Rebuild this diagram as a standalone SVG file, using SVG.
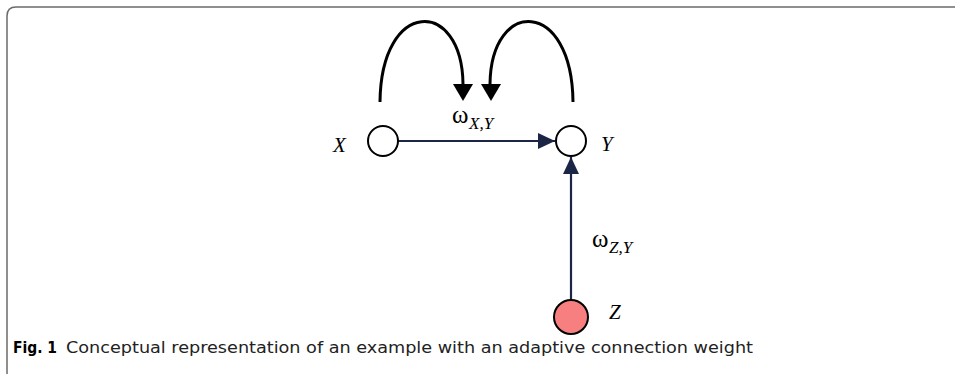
<svg xmlns="http://www.w3.org/2000/svg" width="955" height="374" viewBox="0 0 955 374">
<style>
.loop{fill:none;stroke:#000;stroke-width:3}
.edge{fill:none;stroke:#1b2546;stroke-width:2.2}
.node{fill:#fff;stroke:#000;stroke-width:2}
.lbl{font-family:"Liberation Serif",serif;font-style:italic;font-size:21px;fill:#000}
.om{font-family:"Liberation Serif",serif;font-size:25px;fill:#000}
.sub{font-family:"Liberation Serif",serif;font-style:italic;font-size:17px;fill:#000}
.cap{font-family:"DejaVu Sans Condensed","Liberation Sans",sans-serif;font-size:16px;fill:#222}
</style>
<defs>
<marker id="an" markerWidth="17" markerHeight="16" refX="17" refY="8" orient="auto" markerUnits="userSpaceOnUse" viewBox="0 0 17 16">
<path d="M0,0 L17,8 L0,16 Z" fill="#1b2546"/>
</marker>
</defs>
<path d="M7,374 L7,16 Q7,7 16,7 L955,7" fill="none" stroke="#6b6b6b" stroke-width="1.5"/>
<g id="connectors">
<path class="loop" d="M380,102 C381,-2 462,-2 463,84"/>
<polygon points="453,84 473,84 463,101" fill="#000"/>
<path class="loop" d="M573,102 C572,-2 491,-2 490,84"/>
<polygon points="481,84 501,84 491,101" fill="#000"/>
<path class="edge" d="M398,141 L555,141" marker-end="url(#an)"/>
<path class="edge" d="M571,300 L571,157" marker-end="url(#an)"/>
<g id="label-xy"><text class="om" x="452" y="123">ω</text><text class="sub" x="469" y="129">X,Y</text></g>
<g id="label-zy"><text class="om" x="592" y="247">ω</text><text class="sub" x="609" y="253">Z,Y</text></g>
</g>
<g id="node-X"><circle class="node" cx="383" cy="141" r="15"/><text class="lbl" x="333" y="152">X</text></g>
<g id="node-Y"><circle class="node" cx="571" cy="141" r="15"/><text class="lbl" x="601" y="151">Y</text></g>
<g id="node-Z"><circle cx="571" cy="317" r="17" fill="#f77f7f" stroke="#000" stroke-width="2"/><text class="lbl" x="609" y="319">Z</text></g>
<g id="caption"><text class="cap" x="13" y="353"><tspan font-weight="bold" fill="#000" textLength="44" lengthAdjust="spacingAndGlyphs">Fig. 1</tspan><tspan x="66" textLength="687" lengthAdjust="spacingAndGlyphs">Conceptual representation of an example with an adaptive connection weight</tspan></text></g>
</svg>
